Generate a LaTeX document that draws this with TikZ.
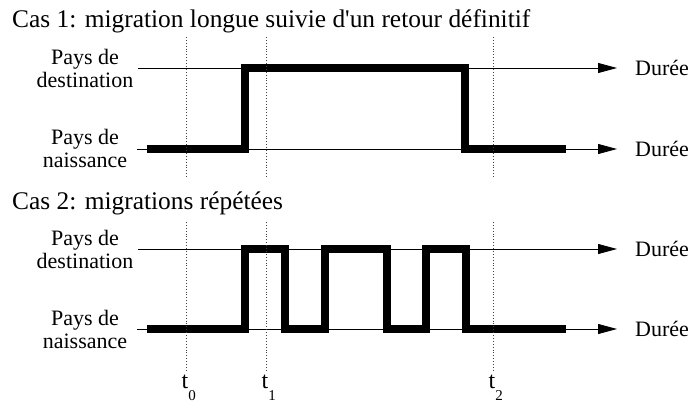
\documentclass[tikz,border=0pt]{standalone}
\usepackage{fontspec}
\setmainfont{Liberation Serif}
\usetikzlibrary{arrows.meta,positioning}

\begin{document}
\begin{tikzpicture}[x=1pt,y=-1pt,
    titre/.style={anchor=base west,inner sep=0pt,font=\fontsize{25.4}{28}\selectfont},
    pays/.style={align=center,inner sep=0pt,font=\fontsize{22}{23}\selectfont},
    duree/.style={anchor=west,inner sep=0pt,inner xsep=18pt,font=\fontsize{22}{24}\selectfont},
    axe/.style={line width=0.8pt,-{Triangle[length=19pt,width=10pt]}},
    parcours/.style={line width=7.5pt,line join=miter},
    pointille/.style={dotted,line width=0.9pt,black!75},
    instant/.style={anchor=base west,inner sep=0pt,font=\fontsize{24}{24}\selectfont}]
    \useasboundingbox (0,0) rectangle (694,406);

    % cas 1
    \node[titre] (titre1) at (12,28) {Cas 1: migration longue suivie d\textquotesingle un retour d\'efinitif};
    \node[pays] (dest1) at (85,68) {Pays de\\destination};
    \node[pays] (nais1) at (85,148) {Pays de\\naissance};
    \coordinate (o1h) at (138,68);
    \coordinate (o1b) at (137,149);
    \node[duree] (duree1h) at (617,68) {Durée};
    \node[duree] (duree1b) at (617,149) {Durée};
    \draw[axe] (o1h) -- (duree1h.west);
    \draw[axe] (o1b) -- (duree1b.west);
    \draw[parcours] (147,149) -| (245,68) -| (465,149) -- (566,149);

    % cas 2
    \node[titre] (titre2) at (12,210) {Cas 2: migrations répétées};
    \node[pays] (dest2) at (85,249) {Pays de\\destination};
    \node[pays] (nais2) at (85,329) {Pays de\\naissance};
    \coordinate (o2h) at (138,249);
    \coordinate (o2b) at (137,329);
    \node[duree] (duree2h) at (617,249) {Durée};
    \node[duree] (duree2b) at (617,329) {Durée};
    \draw[axe] (o2h) -- (duree2h.west);
    \draw[axe] (o2b) -- (duree2b.west);
    \draw[parcours] (147,329) -| (245,249) -| (285,329) -| (325,249)
        -| (387,329) -| (426,249) -| (466,329) -- (566,329);

    % instants
    \foreach \x/\n in {186/0,266/1,493/2}{
        \draw[pointille] (\x,37) -- (\x,178);
        \draw[pointille] (\x,222) -- (\x,370);
        \node[instant] (t\n) at (\x-4.5,388) {t\raisebox{-13pt}{\fontsize{15}{15}\selectfont\n}};
    }
\end{tikzpicture}
\end{document}
